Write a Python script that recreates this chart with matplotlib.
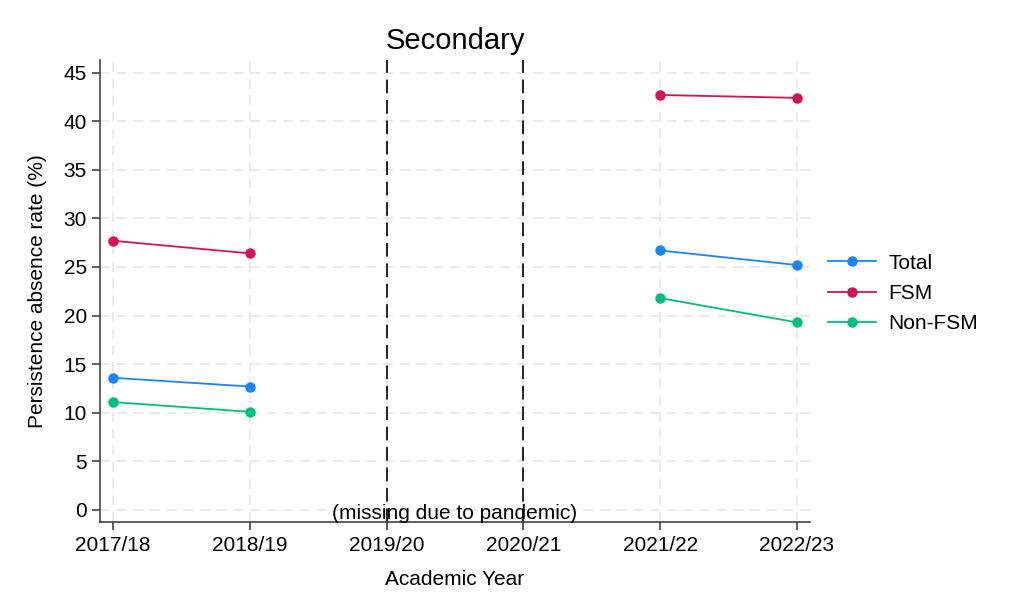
import numpy as np
import matplotlib.pyplot as plt

plt.rcParams['font.family'] = ['Liberation Sans', 'DejaVu Sans']

years = ['2017/18', '2018/19', '2019/20', '2020/21', '2021/22', '2022/23']
total = [13.6, 12.7, np.nan, np.nan, 26.7, 25.2]
fsm = [27.7, 26.4, np.nan, np.nan, 42.7, 42.4]
non_fsm = [11.1, 10.1, np.nan, np.nan, 21.8, 19.3]
pandemic_years = ['2019/20', '2020/21']
yticks = list(range(0, 50, 5))

series = [('Total', total, '#1a85ff'),
          ('FSM', fsm, '#d41159'),
          ('Non-FSM', non_fsm, '#00bf7f')]

fig = plt.figure(figsize=(10.24, 6.14), dpi=100)
ax = fig.add_axes([0.0977, 0.1498, 0.6933, 0.7525])

x = np.arange(len(years))

# grid
for xi in x:
    ax.axvline(xi, color='#e6e6e6', lw=1.2, ls=(0, (6, 4)), zorder=0)
for yt in yticks:
    ax.axhline(yt, color='#e6e6e6', lw=1.2, ls=(0, (6, 4)), zorder=0)

# pandemic gap markers
for py in pandemic_years:
    ax.axvline(years.index(py), color='#222222', lw=1.4, ls=(0, (7, 3.5)), zorder=1)

for name, vals, col in series:
    ax.plot(x, vals, color=col, lw=1.3, marker='o', ms=6.5, label=name, zorder=3)

ax.text(2.5, -1.35, '(missing due to pandemic)', ha='center', va='bottom',
        fontsize=15, zorder=4)

ax.set_xlim(-0.095, 5.095)
ax.set_ylim(-1.24, 46.3)
ax.set_xticks(x)
ax.set_xticklabels(years)
ax.set_yticks(yticks)
ax.tick_params(axis='both', labelsize=15, length=6, width=1.2, color='#444444')
ax.tick_params(axis='x', pad=4)
ax.set_xlabel('Academic Year', fontsize=15, labelpad=11)
ax.set_ylabel('Persistence absence rate (%)', fontsize=15, labelpad=12)
ax.set_title('Secondary', fontsize=21, pad=8)

for s in ['top', 'right']:
    ax.spines[s].set_visible(False)
for s in ['left', 'bottom']:
    ax.spines[s].set_color('#444444')
    ax.spines[s].set_linewidth(1.2)

fig.legend(loc='center left', bbox_to_anchor=(0.790, 0.522), frameon=False,
           fontsize=15, handlelength=2.3, handletextpad=0.6, labelspacing=0.55)

fig.savefig('out.png', dpi=100)
